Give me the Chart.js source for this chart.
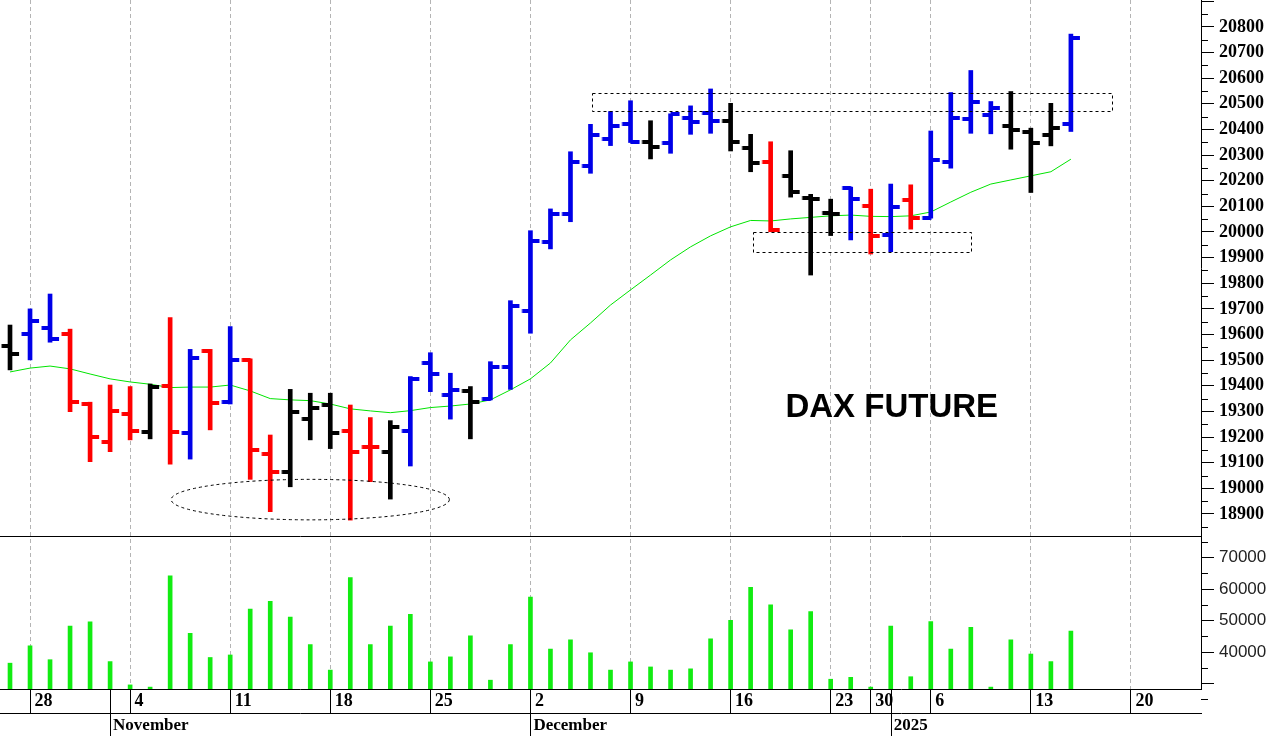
<!DOCTYPE html>
<html>
<head>
<meta charset="utf-8">
<title>DAX Future</title>
<script src="https://cdn.jsdelivr.net/npm/chart.js@4.4.1/dist/chart.umd.min.js"></script>
<style>
  html, body { margin: 0; padding: 0; background: #fff; }
  #wrap { position: relative; width: 1273px; height: 736px; }
</style>
</head>
<body>
<div id="wrap"><canvas id="dax" width="1273" height="736"></canvas></div>
<script>
// Trading days on the axis (the last six slots are still empty)
const days = [
  '2024-10-25','2024-10-28','2024-10-29','2024-10-30','2024-10-31','2024-11-01',
  '2024-11-04','2024-11-05','2024-11-06','2024-11-07','2024-11-08',
  '2024-11-11','2024-11-12','2024-11-13','2024-11-14','2024-11-15',
  '2024-11-18','2024-11-19','2024-11-20','2024-11-21','2024-11-22',
  '2024-11-25','2024-11-26','2024-11-27','2024-11-28','2024-11-29',
  '2024-12-02','2024-12-03','2024-12-04','2024-12-05','2024-12-06',
  '2024-12-09','2024-12-10','2024-12-11','2024-12-12','2024-12-13',
  '2024-12-16','2024-12-17','2024-12-18','2024-12-19','2024-12-20',
  '2024-12-23','2024-12-27','2024-12-30','2025-01-02','2025-01-03',
  '2025-01-06','2025-01-07','2025-01-08','2025-01-09','2025-01-10',
  '2025-01-13','2025-01-14','2025-01-15','2025-01-16','2025-01-17',
  '2025-01-20','2025-01-21','2025-01-22','2025-01-23'
];

// OHLC bars
const open  = [19556,19601,19627,19602,19329,19182,19289,19221,19399,19215,19536,19336,19501,19133,19065,19272,19325,19224,19160,19143,19225,19490,19364,19381,19349,19472,19693,19962,20069,20259,20363,20422,20352,20346,20444,20463,20434,20329,20272,20219,20132,20073,20171,20102,19988,20125,20054,20274,20440,20457,20414,20392,20379,20422];
const high  = [19637,19700,19758,19621,19336,19403,19397,19407,19666,19542,19542,19631,19505,19208,19386,19371,19371,19325,19276,19264,19436,19529,19449,19397,19494,19732,20005,20090,20313,20420,20470,20512,20434,20461,20492,20558,20502,20381,20352,20317,20147,20128,20175,20167,20187,20184,20394,20544,20630,20509,20548,20405,20502,20772];
const low   = [19462,19501,19570,19299,19104,19143,19189,19193,19094,19114,19228,19329,19035,18909,19006,19189,19155,18876,19026,18958,19087,19377,19270,19193,19345,19386,19605,19934,20040,20229,20337,20349,20285,20307,20381,20385,20316,20235,20001,20136,19832,19986,19969,19914,19923,20011,20054,20249,20385,20383,20323,20154,20336,20392];
const close = [19524,19654,19583,19338,19199,19303,19225,19394,19221,19510,19334,19501,19150,19065,19297,19312,19217,19143,19160,19238,19427,19445,19384,19338,19472,19713,19966,20069,20274,20379,20415,20352,20331,20461,20428,20434,20350,20268,20008,20157,20129,20069,20128,19986,20096,20054,20281,20444,20509,20483,20398,20349,20405,20756];
// bar colour code: k = black, b = blue, r = red
const barColor = ['k','b','b','r','r','r','r','k','r','b','r','b','r','r','k','k','k','r','r','k','b','b','b','k','b','b','b','b','b','b','b','b','k','b','b','b','k','k','r','k','k','k','b','r','b','r','b','b','b','b','k','k','k','b'];

// moving average (green line)
const average = [19454,19469,19477,19466,19446,19427,19415,19406,19393,19395,19395,19403,19380,19350,19345,19342,19329,19310,19302,19295,19303,19315,19321,19329,19345,19384,19427,19489,19579,19645,19715,19774,19832,19891,19942,19985,20020,20045,20043,20051,20057,20063,20066,20061,20060,20063,20078,20117,20155,20187,20203,20219,20235,20284];

// volume panel
const volume = [36500,42000,37600,48300,49600,37000,29600,28900,64200,46000,38300,39100,53700,56100,51100,42400,34300,63700,42400,48300,52000,36900,38500,45200,31100,42400,57500,41000,43900,39800,34300,36900,35300,34300,34700,44200,50100,60600,55000,47100,52900,31400,32000,28900,48300,32200,49700,41000,47900,28900,43900,39400,37000,46700];

// axis ticks
const priceTicks = [18900,19000,19100,19200,19300,19400,19500,19600,19700,19800,19900,20000,20100,20200,20300,20400,20500,20600,20700,20800,20900];
const volumeTicks = [30000,40000,50000,60000,70000];
const weekTickDays   = ['2024-10-28','2024-11-04','2024-11-11','2024-11-18','2024-11-25','2024-12-02','2024-12-09','2024-12-16','2024-12-23','2024-12-30','2025-01-06','2025-01-13','2025-01-20'];
const weekTickLabels = ['28','4','11','18','25','2','9','16','23','30','6','13','20'];
const monthDays   = ['2024-11-01','2024-12-02','2025-01-02'];
const monthLabels = ['November','December','2025'];

const palette = { k: '#000000', b: '#0000e8', r: '#ff0000' };
const serif = "'Liberation Serif', 'Times New Roman', serif";
const sans = "'Liberation Sans', Arial, sans-serif";

const weekLabelAt = {};
weekTickDays.forEach((d, i) => { weekLabelAt[days.indexOf(d)] = weekTickLabels[i]; });

// open / close ticks drawn as small images centred on the bar
function tickImage(color, side) {
    const c = document.createElement('canvas');
    c.width = 20; c.height = 4;
    const g = c.getContext('2d');
    g.fillStyle = color;
    if (side === 'open') g.fillRect(1.5, 0, 9, 4);
    else g.fillRect(10, 0, 9, 4);
    return c;
}
const tickImgs = {};
Object.keys(palette).forEach(k => {
    tickImgs[k] = { open: tickImage(palette[k], 'open'), close: tickImage(palette[k], 'close') };
});

// no extra room around the axes: the plot runs to the canvas edges
const noPad = s => { s.paddingTop = 0; s.paddingBottom = 0; s.paddingLeft = 0; s.paddingRight = 0; };

// minor ticks, date rows, dashed boxes, ellipse and caption
const overlay = {
    id: 'overlay',
    afterDraw(chart) {
        const { ctx, chartArea: ca, scales: { x, y, yv } } = chart;
        ctx.save();
        ctx.strokeStyle = '#000';
        ctx.lineWidth = 1;

        ctx.beginPath();
        priceTicks.forEach(v => {
            const py = Math.round(y.getPixelForValue(v - 50)) + 0.5;
            ctx.moveTo(y.left, py); ctx.lineTo(y.left + 7, py);
        });
        volumeTicks.concat([80000]).forEach(v => {
            if (v - 5000 > yv.max) return;
            const py = Math.round(yv.getPixelForValue(v - 5000)) + 0.5;
            ctx.moveTo(yv.left, py); ctx.lineTo(yv.left + 7, py);
        });
        const sep = Math.round(y.bottom) + 0.5;
        ctx.moveTo(ca.left, sep); ctx.lineTo(ca.right + 1, sep);
        const rowY = Math.round(x.top + 24) + 0.5;
        ctx.moveTo(ca.left, rowY); ctx.lineTo(ca.right + 1, rowY);
        monthDays.forEach(d => {
            const px = Math.round(x.getPixelForValue(days.indexOf(d))) + 0.5;
            ctx.moveTo(px, x.top); ctx.lineTo(px, chart.height);
        });
        ctx.stroke();

        ctx.fillStyle = '#000';
        ctx.font = 'bold 17px ' + serif;
        ctx.textBaseline = 'middle';
        ctx.textAlign = 'left';
        monthDays.forEach((d, i) => {
            const px = x.getPixelForValue(days.indexOf(d));
            ctx.fillText(monthLabels[i], px + 3, x.top + 37);
        });

        ctx.setLineDash([3, 3]);
        const box = (i1, i2, p1, p2) => {
            const x1 = Math.round(x.getPixelForValue(i1)) + 0.5, x2 = Math.round(x.getPixelForValue(i2)) + 0.5;
            const y1 = Math.round(y.getPixelForValue(p1)) + 0.5, y2 = Math.round(y.getPixelForValue(p2)) + 0.5;
            ctx.strokeRect(x1, y1, x2 - x1, y2 - y1);
        };
        box(29.1, 55.05, 20541, 20472);
        box(37.1, 48, 19999, 19921);
        const cx = x.getPixelForValue(15), cy = y.getPixelForValue(18956);
        const rx = x.getPixelForValue(21.95) - cx, ry = y.getPixelForValue(18877) - cy;
        ctx.beginPath();
        ctx.ellipse(cx, cy, rx, ry, 0, 0, Math.PI * 2);
        ctx.stroke();
        ctx.setLineDash([]);

        ctx.font = 'bold 33px ' + sans;
        ctx.textAlign = 'center';
        ctx.fillText('DAX FUTURE', x.getPixelForValue(44.05), y.getPixelForValue(19315));
        ctx.restore();
    }
};

new Chart(document.getElementById('dax'), {
    type: 'bar',
    data: {
        labels: days,
        datasets: [
            {
                type: 'line', label: 'Average', data: average, yAxisID: 'y',
                borderColor: '#00e400', borderWidth: 1, pointRadius: 0, tension: 0, order: 5
            },
            {
                type: 'bar', label: 'Range', data: low.map((l, i) => [l, high[i]]), yAxisID: 'y',
                backgroundColor: barColor.map(c => palette[c]), barThickness: 4, grouped: false, order: 3
            },
            {
                type: 'line', label: 'Open', data: open, yAxisID: 'y', showLine: false,
                pointStyle: c => tickImgs[barColor[c.dataIndex]].open, pointRadius: 3, order: 2
            },
            {
                type: 'line', label: 'Close', data: close, yAxisID: 'y', showLine: false,
                pointStyle: c => tickImgs[barColor[c.dataIndex]].close, pointRadius: 3, order: 1
            },
            {
                type: 'bar', label: 'Volume', data: volume, yAxisID: 'yv',
                backgroundColor: '#12ec12', barThickness: 4, grouped: false, order: 4
            }
        ]
    },
    options: {
        responsive: false,
        animation: false,
        events: [],
        layout: { padding: 0, autoPadding: false },
        plugins: { legend: { display: false }, tooltip: { enabled: false } },
        scales: {
            x: {
                offset: true,
                grid: {
                    offset: false,
                    color: c => weekLabelAt[c.index] ? '#b4b4b4' : 'rgba(0,0,0,0)',
                    lineWidth: 1,
                    tickLength: 24,
                    tickColor: c => weekLabelAt[c.index] ? '#000' : 'rgba(0,0,0,0)',
                    tickBorderDash: []
                },
                border: { display: true, color: '#000', width: 1, dash: [4, 3] },
                ticks: {
                    autoSkip: false, maxRotation: 0, align: 'start', padding: -22,
                    color: '#000', font: { family: serif, size: 18, weight: 'bold' },
                    callback: (v, i) => weekLabelAt[i] ? ' ' + weekLabelAt[i] : ''
                },
                afterFit: s => { s.height = 47; noPad(s); }
            },
            y: {
                position: 'right', stack: 'right', stackWeight: 536,
                min: 18814, max: 20905,
                grid: { drawOnChartArea: false, tickLength: 13, tickColor: '#000' },
                border: { color: '#000' },
                ticks: {
                    autoSkip: false, padding: 5, color: '#000',
                    font: { family: serif, size: 18, weight: 'bold' },
                    callback: v => v <= 20800 ? String(v) : ''
                },
                afterBuildTicks: s => { s.ticks = priceTicks.map(v => ({ value: v })); },
                afterFit: s => { s.width = 72; noPad(s); }
            },
            yv: {
                position: 'right', stack: 'right', stackWeight: 153,
                min: 28300, max: 76870,
                grid: { drawOnChartArea: false, tickLength: 13, tickColor: '#000' },
                border: { color: '#000' },
                ticks: {
                    autoSkip: false, padding: 5, color: '#222',
                    font: { family: sans, size: 17 },
                    callback: v => v >= 40000 ? String(v) : ''
                },
                afterBuildTicks: s => { s.ticks = volumeTicks.map(v => ({ value: v })); },
                afterFit: s => { s.width = 72; noPad(s); }
            }
        }
    },
    plugins: [overlay]
});
</script>
</body>
</html>
